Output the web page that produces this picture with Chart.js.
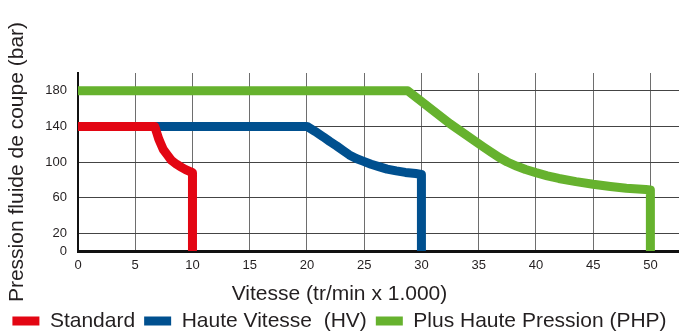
<!DOCTYPE html>
<html>
<head>
<meta charset="utf-8">
<script src="https://cdn.jsdelivr.net/npm/chart.js@4/dist/chart.umd.min.js"></script>
<style>
  html, body { margin: 0; padding: 0; background: #fff; }
</style>
</head>
<body>
<canvas id="chart" width="679" height="332"></canvas>
<script>
// Values (speed in 1000 rpm, pressure in bar)
const stdX = [0, 6.7, 6.78, 6.9, 7.05, 7.25, 7.45, 7.8, 8.15, 8.6, 9.05, 9.4, 9.75, 10, 10];
const stdY = [140, 140, 137, 132, 126, 120, 114, 108, 102, 97.5, 94, 91.5, 89.5, 88, 0];

const hvX = [0, 20, 20.7, 21.4, 22, 22.6, 23.2, 23.7, 24.3, 24.9, 25.6, 26.35, 27, 27.8, 28.6, 29.5, 30, 30];
const hvY = [140, 140, 134.5, 128.5, 123, 118, 112.5, 108, 104, 101, 97.5, 94.5, 92, 90, 88.3, 87, 86, 0];

const phpX = [0, 28.8, 32.5, 35.4, 36.1, 36.8, 37.5, 38.3, 39.1, 40, 41, 42, 43.5, 45, 46.5, 47.9, 49.6, 50, 50];
const phpY = [180, 180, 143, 117, 111, 105, 100, 95.5, 91.5, 88, 84.5, 81.5, 78, 75, 72.5, 70.5, 69, 68.5, 0];

const xTicks = [0, 5, 10, 15, 20, 25, 30, 35, 40, 45, 50];
const yTicks = [0, 20, 60, 100, 140, 180];

const FONT = "'Liberation Sans', Arial, sans-serif";
const TEXT = "#231f20";

function points(xs, ys) {
  return xs.map((x, i) => ({ x: x, y: ys[i] }));
}

function series(label, xs, ys, color, order) {
  return {
    label: label,
    data: points(xs, ys),
    order: order,
    borderColor: color,
    backgroundColor: color,
    borderWidth: 9,
    borderCapStyle: "butt",
    borderJoinStyle: "round",
    pointRadius: 0,
    tension: 0,
    fill: false
  };
}

const ctx = document.getElementById("chart");

new Chart(ctx, {
  type: "line",
  data: {
    // red drawn last so it sits on top of the blue line
    datasets: [
      series("Standard", stdX, stdY, "#e30613", 0),
      series("Haute Vitesse  (HV)", hvX, hvY, "#00508f", 1),
      series("Plus Haute Pression (PHP)", phpX, phpY, "#66b22e", 2)
    ]
  },
  options: {
    responsive: false,
    animation: false,
    layout: { padding: { top: 73, left: 0, right: 0, bottom: 0 } },
    plugins: {
      tooltip: { enabled: false },
      legend: {
        position: "bottom",
        maxHeight: 30.5,
        labels: {
          boxWidth: 27,
          boxHeight: 9,
          padding: 9,
          color: TEXT,
          font: { family: FONT, size: 21 },
          generateLabels: (chart) =>
            Chart.defaults.plugins.legend.labels.generateLabels(chart)
              .map(l => Object.assign(l, { lineWidth: 0 }))
        }
      },
      title: {
        display: true,
        position: "bottom",
        weight: 500,
        text: "Vitesse (tr/min x 1.000)",
        color: TEXT,
        font: { family: FONT, size: 21, weight: "normal", lineHeight: 1 },
        padding: { top: 0, bottom: -3 }
      }
    },
    scales: {
      x: {
        type: "linear",
        min: 0,
        max: 52.5,
        afterBuildTicks: (s) => { s.ticks = xTicks.map(v => ({ value: v })); },
        afterFit: (s) => { s.height = 32.5; },
        ticks: {
          padding: 7,
          color: TEXT,
          autoSkip: false,
          maxRotation: 0,
          font: { family: FONT, size: 13 }
        },
        grid: { color: "#6e6e6e", lineWidth: 1, drawTicks: false },
        border: { color: "#111", width: 3 }
      },
      y: {
        min: 0,
        max: 200,
        afterBuildTicks: (s) => { s.ticks = yTicks.map(v => ({ value: v })); },
        afterFit: (s) => { s.width = 78; },
        ticks: {
          padding: 11,
          color: TEXT,
          font: { family: FONT, size: 13 }
        },
        grid: { color: "#444", lineWidth: 1, drawTicks: false },
        border: { color: "#111", width: 2 },
        title: {
          display: true,
          text: "Pression fluide de coupe (bar)",
          color: TEXT,
          font: { family: FONT, size: 21 },
          padding: { top: 5, bottom: 0 }
        }
      }
    }
  }
});
</script>
</body>
</html>
